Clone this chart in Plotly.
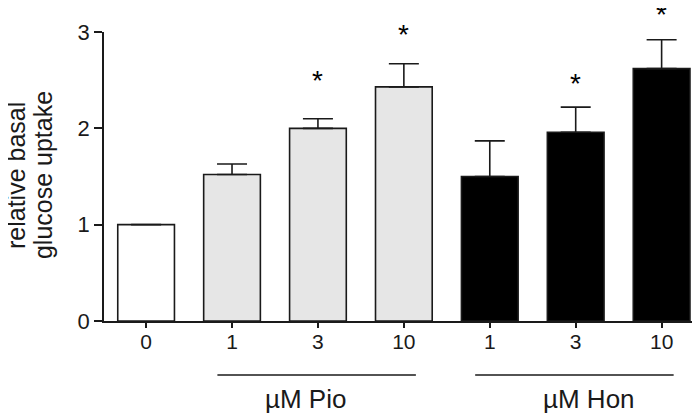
import plotly.graph_objects as go

# ---- data ----
tick_labels = ["0", "1", "3", "10", "1", "3", "10"]
values = [1.00, 1.52, 2.00, 2.43, 1.50, 1.96, 2.62]
errors = [0.0, 0.11, 0.10, 0.24, 0.37, 0.26, 0.30]
star_levels = [None, None, 2.44, 2.92, None, 2.41, 3.13]   # height of the "*" marks
bar_colors = ["#ffffff", "#e6e6e6", "#e6e6e6", "#e6e6e6", "#000000", "#000000", "#000000"]
groups = [("µM Pio", [1, 2, 3]), ("µM Hon", [4, 5, 6])]
y_ticks = [0, 1, 2, 3]
y_title_lines = ["relative basal", "glucose uptake"]

FONT = "Liberation Sans, Arial, sans-serif"
INK = "#1a1a1a"
Y_RANGE = [0, 3]

x = list(range(len(values)))

fig = go.Figure()
fig.add_trace(go.Bar(
    x=x, y=values, width=0.66,
    marker=dict(color=bar_colors, line=dict(color=INK, width=1.6)),
    error_y=dict(type="data", symmetric=False, array=errors,
                 arrayminus=[0] * len(errors), color=INK, thickness=1.6, width=15,
                 visible=True),
    showlegend=False, hoverinfo="skip",
))

for i, s in enumerate(star_levels):
    if s is None:
        continue
    fig.add_annotation(xref="x", yref="paper", x=i,
                       y=(s - Y_RANGE[0]) / (Y_RANGE[1] - Y_RANGE[0]),
                       text="*", showarrow=False,
                       xanchor="center", yanchor="middle", yshift=5,
                       font=dict(family=FONT, size=28, color="#000"))

label_shift = {"µM Pio": -0.15, "µM Hon": 0.16}
for name, idx in groups:
    fig.add_shape(type="line", xref="x", yref="paper",
                  x0=idx[0] - 0.17, x1=idx[-1] + 0.14, y0=-0.187, y1=-0.187,
                  line=dict(color=INK, width=1.5))
    fig.add_annotation(xref="x", yref="paper",
                       x=(idx[0] + idx[-1]) / 2 + label_shift[name], y=-0.27,
                       text=name, showarrow=False, xanchor="center", yanchor="middle",
                       font=dict(family=FONT, size=26, color=INK))

PLOT_L, PLOT_W = 96, 598
for line, px in zip(y_title_lines, [8, 35]):
    fig.add_annotation(xref="paper", yref="paper", x=(px - PLOT_L) / PLOT_W, y=0.505,
                       text=line, textangle=-90,
                       showarrow=False, xanchor="center", yanchor="middle",
                       font=dict(family=FONT, size=25, color=INK))

fig.update_layout(
    width=700, height=414,
    margin=dict(l=96, r=6, t=24, b=101),
    paper_bgcolor="white", plot_bgcolor="white",
    font=dict(family=FONT, color=INK),
)
fig.update_xaxes(
    range=[-0.49, 6.47], tickvals=x, ticktext=tick_labels,
    showline=True, linecolor=INK, linewidth=1.5,
    ticks="outside", ticklen=5, tickwidth=1.5, tickcolor=INK,
    tickfont=dict(family=FONT, size=21, color=INK),
    showgrid=False, zeroline=False, ticklabelstandoff=-4,
)
fig.update_yaxes(
    range=Y_RANGE, tickvals=y_ticks,
    showline=True, linecolor=INK, linewidth=1.5,
    ticks="outside", ticklen=8, tickwidth=1.5, tickcolor=INK,
    tickfont=dict(family=FONT, size=22, color=INK),
    showgrid=False, zeroline=False,
)

fig.write_html("out.html")
